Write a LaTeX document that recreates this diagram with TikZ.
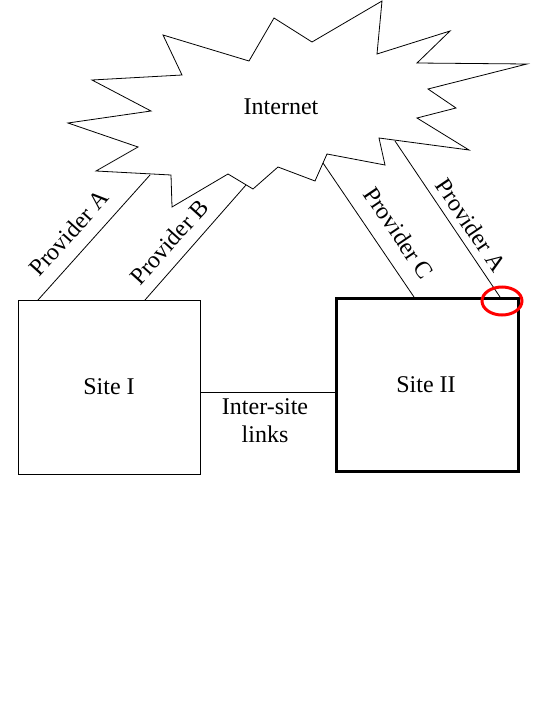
\documentclass[tikz,border=0pt]{standalone}
\usepackage{fontspec}
\setmainfont{Liberation Serif}
\begin{document}
\begin{tikzpicture}[x=1pt,y=-1pt,
  thinline/.style={line width=0.8pt, line join=miter},
  sitebox/.style={draw, minimum width=182pt, minimum height=174pt, inner sep=0pt, line width=0.8pt},
  lbl/.style={font=\fontsize{24}{28}\selectfont, inner sep=0pt, align=center}]
\useasboundingbox (0,0) rectangle (540,720);
% cloud
\coordinate (c1) at (163,35);
\coordinate (c2) at (249,61);
\coordinate (c3) at (274,18);
\coordinate (c4) at (312,42);
\coordinate (c5) at (382,1);
\coordinate (c6) at (377,54);
\coordinate (c7) at (450,31);
\coordinate (c8) at (417,63);
\coordinate (c9) at (527,64);
\coordinate (c10) at (428,89);
\coordinate (c11) at (456,108);
\coordinate (c12) at (417,118);
\coordinate (c13) at (469,150);
\coordinate (c14) at (379,138);
\coordinate (c15) at (385,165);
\coordinate (c16) at (327,154);
\coordinate (c17) at (315,181);
\coordinate (c18) at (278,167);
\coordinate (c19) at (253,189);
\coordinate (c20) at (228,174);
\coordinate (c21) at (172,207);
\coordinate (c22) at (171,175);
\coordinate (c23) at (96,171);
\coordinate (c24) at (138,147);
\coordinate (c25) at (68,123);
\coordinate (c26) at (151,111);
\coordinate (c27) at (92,80);
\coordinate (c28) at (182,75);
\draw[thinline] (c1) -- (c2) -- (c3) -- (c4) -- (c5) -- (c6) -- (c7) -- (c8) -- (c9) -- (c10) -- (c11) -- (c12) -- (c13) -- (c14) -- (c15) -- (c16) -- (c17) -- (c18) -- (c19) -- (c20) -- (c21) -- (c22) -- (c23) -- (c24) -- (c25) -- (c26) -- (c27) -- (c28) -- cycle;
\node[lbl] (internet) at (281,107) {Internet};
% sites
\node[sitebox] (s1) at (109,387) {};
\node[lbl] (s1t) at (109,387) {Site I};
\node[sitebox, line width=3pt, minimum height=173pt] (s2) at (427,384.5) {};
\node[lbl] (s2t) at (426,385) {Site II};
% provider link end points
\coordinate (pa1) at (38,300);
\coordinate (pa1c) at (150,175);
\coordinate (pb1) at (145,300);
\coordinate (pb1c) at (246,185);
\coordinate (pc2) at (414,297);
\coordinate (pc2c) at (323,163);
\coordinate (pa2) at (500,297);
\coordinate (pa2c) at (395,141);
\draw[thinline] (pa1) -- (pa1c);
\draw[thinline] (pb1) -- (pb1c);
\draw[thinline] (pc2) -- (pc2c);
\draw[thinline] (pa2) -- (pa2c);
\node[lbl, rotate=48] (la1) at (69,233) {Provider A};
\node[lbl, rotate=48] (lb1) at (169,242) {Provider B};
\node[lbl, rotate=-56] (lc2) at (399,233) {Provider C};
\node[lbl, rotate=-56] (la2) at (471,225) {Provider A};
% inter-site link
\draw[thinline] (s1.east |- 0,392) -- (s2.west |- 0,392);
\node[lbl] (inter) at (265,421) {Inter-site\\links};
% red highlight
\draw[red, line width=3pt] (502,301) ellipse [x radius=20pt, y radius=14pt];
\end{tikzpicture}
\end{document}
